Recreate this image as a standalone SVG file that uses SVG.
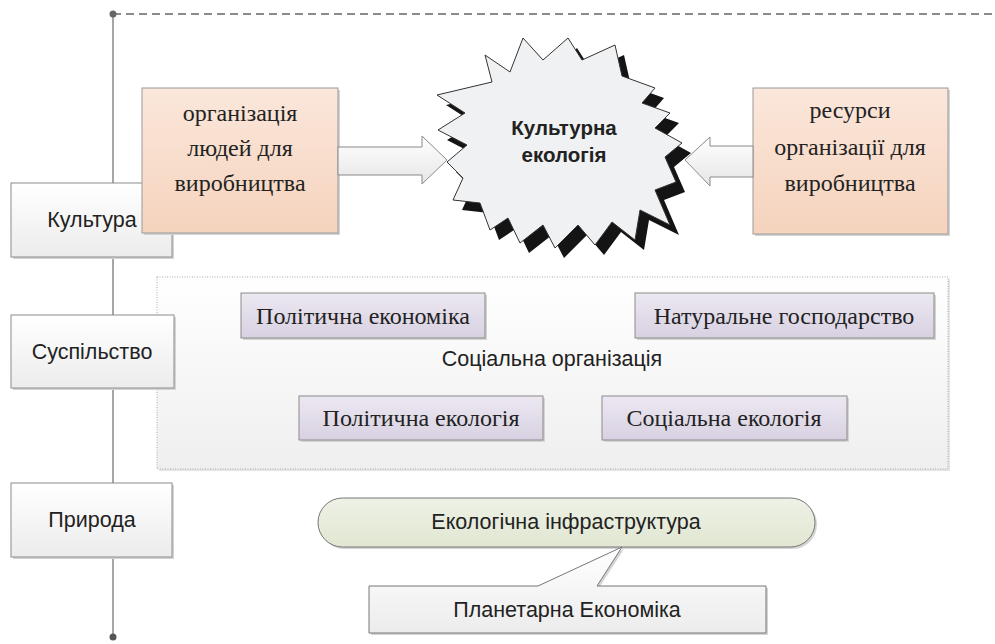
<svg xmlns="http://www.w3.org/2000/svg" width="995" height="644" viewBox="0 0 995 644">
<defs>
<linearGradient id="gGray" x1="0" y1="0" x2="0" y2="1"><stop offset="0" stop-color="#ffffff"/><stop offset="1" stop-color="#ececec"/></linearGradient>
<linearGradient id="gOrange" x1="0" y1="0" x2="0" y2="1"><stop offset="0" stop-color="#fbe7db"/><stop offset="1" stop-color="#f5d3bd"/></linearGradient>
<linearGradient id="gPurple" x1="0" y1="0" x2="0" y2="1"><stop offset="0" stop-color="#ece8f1"/><stop offset="1" stop-color="#d8d1e2"/></linearGradient>
<linearGradient id="gGreen" x1="0" y1="0" x2="0" y2="1"><stop offset="0" stop-color="#eef1e6"/><stop offset="1" stop-color="#e1e7d2"/></linearGradient>
<linearGradient id="gCont" x1="0" y1="0" x2="0" y2="1"><stop offset="0" stop-color="#ffffff"/><stop offset="1" stop-color="#efefef"/></linearGradient>
<linearGradient id="gArrow" x1="0" y1="0" x2="0" y2="1"><stop offset="0" stop-color="#ffffff"/><stop offset="1" stop-color="#e6e6e6"/></linearGradient>
<linearGradient id="gBottom" x1="0" y1="0" x2="1" y2="0"><stop offset="0" stop-color="#444"/><stop offset="1" stop-color="#d0d0d0"/></linearGradient>
</defs>
<style>
.sh{fill:#d4d4d4;}
.lbl{fill:url(#gGray);stroke:#8c8c8c;stroke-width:1;}
.org{fill:url(#gOrange);stroke:#999;stroke-width:1;}
.pur{fill:url(#gPurple);stroke:#8a8a8a;stroke-width:1;}
.sans{font-family:"Liberation Sans",Arial,sans-serif;font-size:21.5px;fill:#222;text-anchor:middle;dominant-baseline:central;}
.serif{font-family:"Liberation Serif","Times New Roman",serif;font-size:24px;fill:#222;text-anchor:middle;dominant-baseline:central;}
.bold{font-family:"Liberation Sans",Arial,sans-serif;font-size:20.5px;font-weight:bold;fill:#222;text-anchor:middle;dominant-baseline:central;}
.arrow{fill:url(#gArrow);stroke:#8a8a8a;stroke-width:1;}
</style>
<g id="connectors">
<line x1="113" y1="14" x2="113" y2="637" stroke="#777" stroke-width="1.3"/>
<line x1="113" y1="14" x2="995" y2="14" stroke="#666" stroke-width="1.3" stroke-dasharray="8,5"/>
<line x1="113" y1="637" x2="905" y2="637" stroke="url(#gBottom)" stroke-width="1.3" stroke-dasharray="8,5"/>
<circle cx="113" cy="14" r="3.5" fill="#666"/>
<circle cx="113" cy="637" r="3.5" fill="#555"/>
</g>
<g id="container">
<rect x="159" y="279" width="791" height="192" class="sh" fill-opacity="0.6"/>
<rect x="157" y="277" width="791" height="192" fill="url(#gCont)" stroke="#aaa" stroke-width="1" stroke-dasharray="1,1.5"/>
<text x="552" y="359" class="sans">Соціальна організація</text>
</g>
<g id="kultura">
<rect x="13" y="185" width="161" height="74" class="sh"/>
<rect x="11" y="183" width="161" height="74" class="lbl"/>
<text x="92" y="220" class="sans">Культура</text>
</g>
<g id="suspilstvo">
<rect x="13" y="317" width="163" height="73" class="sh"/>
<rect x="11" y="315" width="163" height="73" class="lbl"/>
<text x="92" y="352" class="sans">Суспільство</text>
</g>
<g id="pryroda">
<rect x="13" y="485" width="161" height="74" class="sh"/>
<rect x="11" y="483" width="161" height="74" class="lbl"/>
<text x="92" y="520" class="sans">Природа</text>
</g>
<g id="org-lyudey">
<rect x="144" y="90" width="196" height="145" class="sh"/>
<rect x="142" y="88" width="196" height="145" class="org"/>
<text x="240" y="113" class="serif">організація</text>
<text x="240" y="148" class="serif">людей для</text>
<text x="240" y="183" class="serif">виробництва</text>
</g>
<g id="resursy">
<rect x="755" y="90" width="195" height="146" class="sh"/>
<rect x="753" y="88" width="195" height="146" class="org"/>
<text x="850" y="110" class="serif">ресурси</text>
<text x="850" y="147" class="serif">організації для</text>
<text x="850" y="183" class="serif">виробництва</text>
</g>
<g id="kulturna-ekologiya">
<polygon transform="translate(9,10)" fill="#141414" points="523,38 543,60 568,38 582,60 615,45 622,76 655,88 642,103 670,113 655,128 682,143 665,157 676,182 655,190 670,225 640,210 635,240 612,222 595,245 578,225 555,248 543,225 520,243 508,218 490,230 480,203 453,200 463,178 447,162 467,145 438,130 465,113 437,95 492,82 485,55 510,72"/>
<polygon fill="#f0f1f3" stroke="#333" stroke-width="1" points="523,38 543,60 568,38 582,60 615,45 622,76 655,88 642,103 670,113 655,128 682,143 665,157 676,182 655,190 670,225 640,210 635,240 612,222 595,245 578,225 555,248 543,225 520,243 508,218 490,230 480,203 453,200 463,178 447,162 467,145 438,130 465,113 437,95 492,82 485,55 510,72"/>
<text x="564" y="127" class="bold">Культурна</text>
<text x="564" y="154" class="bold">екологія</text>
</g>
<g id="arrows">
<polygon class="arrow" points="338,147 422,147 422,136 447,160 422,184 422,175 338,175"/>
<polygon class="arrow" points="753,146 710,146 710,137 685,160 710,186 710,177 753,177"/>
</g>
<g id="polit-ekonomika">
<rect x="243" y="295" width="244" height="45" class="sh"/>
<rect x="241" y="293" width="244" height="45" class="pur"/>
<text x="363" y="316" class="serif">Політична економіка</text>
</g>
<g id="natur-gospodarstvo">
<rect x="637" y="295" width="299" height="45" class="sh"/>
<rect x="635" y="293" width="299" height="45" class="pur"/>
<text x="784" y="316" class="serif">Натуральне господарство</text>
</g>
<g id="polit-ekologiya">
<rect x="301" y="398" width="244" height="44" class="sh"/>
<rect x="299" y="396" width="244" height="44" class="pur"/>
<text x="421" y="418" class="serif">Політична екологія</text>
</g>
<g id="social-ekologiya">
<rect x="604" y="398" width="245" height="44" class="sh"/>
<rect x="602" y="396" width="245" height="44" class="pur"/>
<text x="724" y="418" class="serif">Соціальна екологія</text>
</g>
<g id="eko-infra">
<rect x="320" y="500" width="497" height="49" rx="24.5" class="sh"/>
<rect x="318" y="498" width="497" height="49" rx="24.5" fill="url(#gGreen)" stroke="#777" stroke-width="1"/>
<text x="566" y="522" class="sans">Екологічна інфраструктура</text>
</g>
<g id="planetarna">
<path d="M371,588 L540,588 L624,549 L599,588 L768,588 L768,635 L371,635 Z" class="sh"/>
<path d="M369,586 L538,586 L622,547 L597,586 L766,586 L766,633 L369,633 Z" fill="url(#gGray)" stroke="#777" stroke-width="1"/>
<text x="567" y="610" class="sans">Планетарна Економіка</text>
</g>
</svg>
